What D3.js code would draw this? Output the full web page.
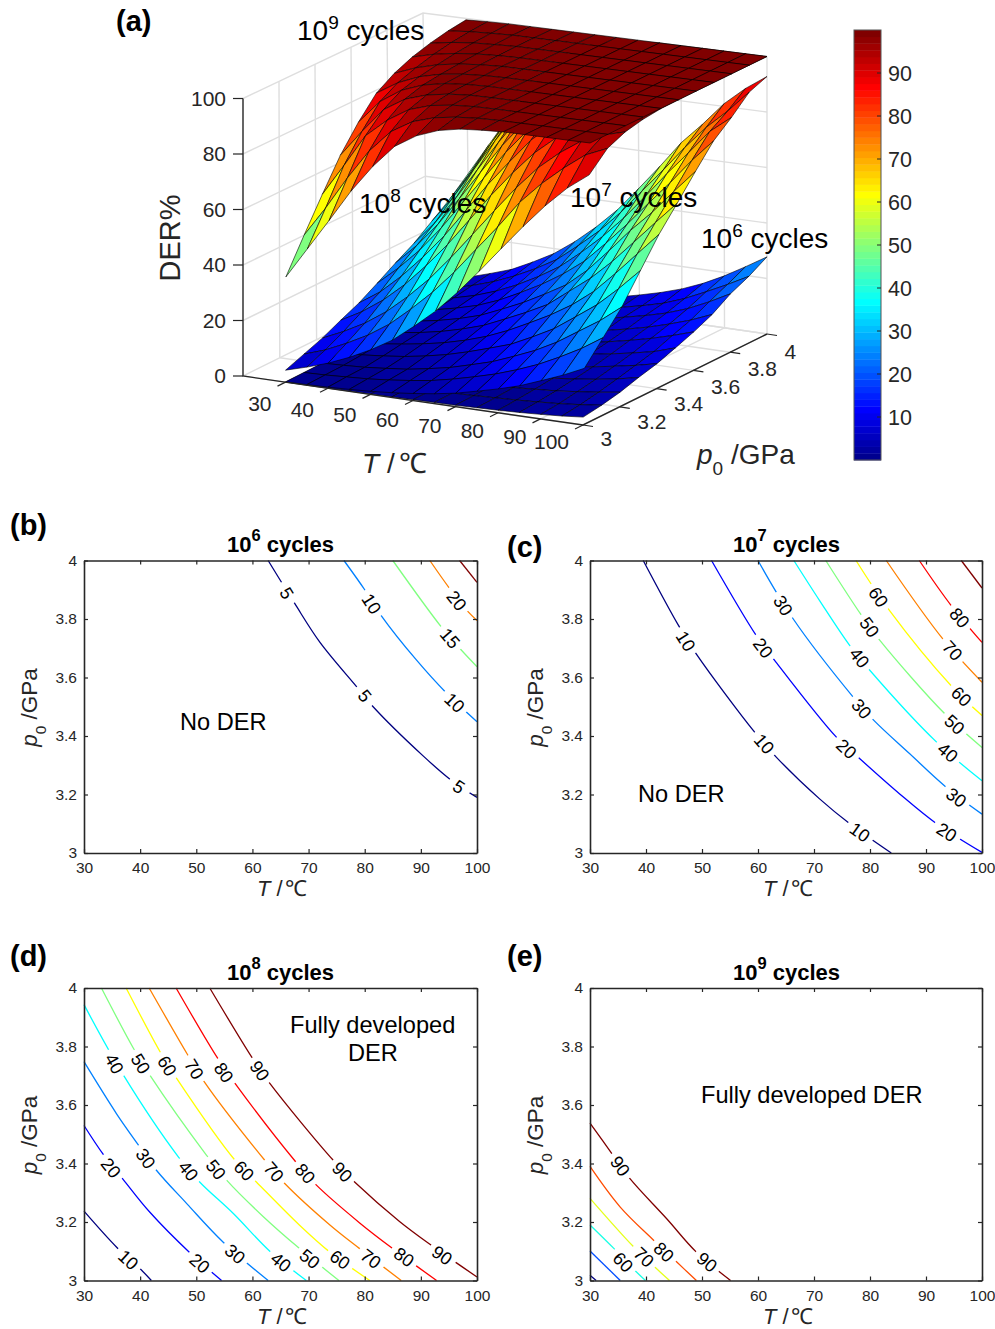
<!DOCTYPE html>
<html><head><meta charset="utf-8">
<script src="https://cdn.jsdelivr.net/npm/d3@7"></script>
<style>html,body{margin:0;padding:0;background:#fff}svg{display:block}text{font-family:"Liberation Sans",Arial,sans-serif}</style>
</head><body><svg id="c" width="995" height="1329"></svg>
<script>
const surfaceTemps=[30,35,40,45,50,55,60,65,70,75,80,85,90,95,100];
const surfacePressures=[3,3.1,3.2,3.3,3.4,3.5,3.6,3.7,3.8,3.9,4];
const der6=[
[0,0,0,.1,.1,.2,.3,.4,.5,.7,.9,1.2,1.6,2.1,2.8],
[0,0,.1,.1,.2,.3,.4,.5,.7,1,1.3,1.7,2.2,2.9,3.8],
[0,.1,.1,.2,.3,.4,.6,.8,1,1.4,1.9,2.4,3.2,4.1,5.2],
[.1,.1,.2,.3,.4,.6,.8,1.1,1.5,2,2.6,3.4,4.4,5.6,7.2],
[.1,.2,.3,.4,.6,.8,1.1,1.5,2,2.7,3.5,4.5,5.8,7.2,8.9],
[.2,.3,.4,.6,.8,1.1,1.5,2,2.7,3.6,4.7,5.9,7.3,8.9,11.3],
[.3,.4,.6,.8,1.1,1.5,2,2.6,3.4,4.5,5.9,7.5,9.3,11.4,13.8],
[.4,.6,.8,1.1,1.4,1.9,2.4,3.1,4.2,5.6,7.2,9,11.2,13.7,16.8],
[.6,.8,1.1,1.4,1.9,2.4,3.1,3.9,5.5,7.1,8.8,10.8,13.5,17,21],
[.8,1,1.4,1.8,2.4,3,3.8,4.8,6.3,8,10,12.8,16.3,20,24],
[1,1.3,1.7,2.2,2.9,3.6,4.5,5.7,7.5,9.5,11.9,15,18.8,23.2,27.8]];
const der7=[
[.1,.2,.4,.7,1.1,1.7,2.5,3.5,4.8,6.6,8.5,10.7,13.6,16.6,20.1],
[.2,.4,.8,1.2,1.9,2.8,3.9,5.5,7.4,9.5,12.1,15.1,18.8,22.9,27.8],
[.3,.6,1,1.7,2.5,3.8,5.3,7.4,9.6,12.6,15.8,19.8,24.7,29.6,35.5],
[.6,1.1,1.8,2.7,4,5.6,7.7,10.1,12.6,16.3,20.3,25.6,31,37.8,45.3],
[1.1,1.8,2.8,4,5.5,7.5,10,13.2,17,21,25.7,31.5,39,47,55],
[1.7,2.6,3.7,5.2,7.2,9.6,13,16.5,20.4,26.2,32,39,47,55.1,63],
[2.3,3.4,4.8,6.6,8.9,12.2,15.7,19.8,24.2,30.6,38.6,47,54.5,63,71.2],
[3,4.3,6,8.1,11.1,14.9,19,23.8,29.5,37,45,53.6,62,71,79],
[3.8,5.3,7.3,10,13.4,17.5,22.2,28.4,35.2,43,51.8,61,69.5,78.3,84.3],
[4.4,6.5,9,12.2,16,20.4,26.5,33,40.7,49.5,58.2,67.3,75.6,82.5,90.3],
[5.2,7.6,10.2,14,18.2,23.7,30.1,37.4,46.2,55.3,64.9,72.6,81,87.5,92.8]];
const der8=[
[4.3,6.5,9,12.2,16,20.5,26.5,33,40.7,49.3,58.4,67.3,75.7,83,88.7],
[6.8,9.4,12.9,16.9,21.9,28.4,35.5,43.7,52.9,62,71.8,79.5,86,91.7,95],
[9.3,12.8,16.9,22.1,28.6,36,44.7,54.1,63.6,72.8,81,87.4,92.6,95.7,97.8],
[12.5,16.7,22,28.6,36.5,45.2,55,64.9,74,82.2,88.6,93.8,96.3,98.2,99.2],
[15.5,20.6,27.4,35.3,44.1,54.2,64.5,73.7,82.6,89.2,94,96.7,98.5,99.4,99.9],
[19.4,26,33.6,42.6,52.8,62.9,73,81.9,88.5,93.8,96.5,98.4,99.5,99.9,100],
[23.5,30.9,39.7,50,60.7,71.3,80.5,87.8,93.6,96.4,98.4,99.4,99.9,100,100],
[27.3,35.9,46.1,57.3,68.4,78.5,86.7,93.1,96.3,98.4,99.5,100,100,100,100],
[32.2,41.9,53.3,64.8,75.5,84.7,91.4,95.6,98.1,99.2,99.8,100,100,100,100],
[37.1,48,60,71.5,81.5,89.3,94.6,97.5,99,99.7,100,100,100,100,100],
[43,54.8,66.6,77.8,86.4,93.1,96.4,98.7,99.6,100,100,100,100,100,100]];
const der9=[
[37.8,49,60.2,71.7,81.6,89.8,94.6,97.5,99,99.6,100,100,100,100,100],
[49.7,60.5,72.3,83,91,95.6,98,99.2,99.8,100,100,100,100,100,100],
[61.2,72.6,84.4,91,95.8,98.3,99.4,99.9,100,100,100,100,100,100,100],
[72.2,81.8,90.7,95.5,98,99.3,99.9,100,100,100,100,100,100,100,100],
[81,89.5,94.6,97.5,99,99.7,100,100,100,100,100,100,100,100,100],
[88.4,93.2,96.4,98.3,99.3,99.8,100,100,100,100,100,100,100,100,100],
[92.5,95.5,97.6,98.9,99.6,100,100,100,100,100,100,100,100,100,100],
[95.3,97.3,98.6,99.4,99.8,100,100,100,100,100,100,100,100,100,100],
[97.2,98.5,99.3,99.7,100,100,100,100,100,100,100,100,100,100,100],
[98.6,99.3,99.7,100,100,100,100,100,100,100,100,100,100,100,100],
[99.5,99.8,100,100,100,100,100,100,100,100,100,100,100,100,100]];

const contoursB=[
[5,[[62.8,4],[67.5,3.854],[72,3.721],[78.8,3.563],[81.5,3.5],[90.4,3.332],[95.4,3.249],[100,3.19]]],
[10,[[76.3,4],[80,3.9],[83,3.81],[89.2,3.66],[94.5,3.548],[100,3.449]]],
[15,[[85,4],[93.6,3.774],[97.2,3.694],[100,3.637]]],
[20,[[91.6,4],[95.1,3.905],[98.4,3.825],[100,3.795]]],
[25,[[96.9,4],[100,3.925]]]];
const labelsB=[[5,66.1,3.888],[5,80,3.537],[5,96.8,3.226],[10,81.2,3.852],[10,96,3.514],[15,95.2,3.734],[20,96.4,3.863]];
const contoursC=[
[10,[[39.5,4],[45.8,3.778],[49,3.68],[59.4,3.413],[63.3,3.327],[71,3.185],[76.4,3.1],[83.8,3]]],
[20,[[51.7,4],[59.7,3.743],[63,3.658],[74,3.396],[78.2,3.322],[85.3,3.202],[91.9,3.1],[100,3.002]]],
[30,[[60,4],[66.3,3.8],[77,3.533],[80.6,3.455],[87.1,3.339],[93.6,3.225],[100,3.133]]],
[40,[[66.4,4],[71,3.863],[76.4,3.709],[80,3.624],[91.9,3.379],[100,3.247]]],
[50,[[72.1,4],[78.5,3.812],[81.8,3.726],[93.4,3.475],[100,3.361]]],
[60,[[77.5,4],[83.5,3.829],[94.5,3.572],[100,3.47]]],
[70,[[82.9,4],[93,3.732],[100,3.584]]],
[80,[[88.8,4],[94.5,3.846],[100,3.72]]],
[90,[[96.3,4],[100,3.906]]]];
const labelsC=[[10,47.1,3.724],[10,61.1,3.373],[10,78.2,3.071],[20,60.9,3.701],[20,75.8,3.356],[20,93.7,3.071],[30,64.5,3.846],[30,78.5,3.493],[30,95.4,3.19],[40,78.1,3.667],[40,93.9,3.344],[50,79.9,3.772],[50,95.1,3.439],[60,81.5,3.875],[60,96.3,3.535],[70,94.7,3.692],[80,96,3.804]];
const contoursD=[
[10,[[30,3.237],[35.9,3.112],[40,3.04],[42,3]]],
[20,[[30,3.53],[33.4,3.432],[37,3.345],[41.7,3.234],[48.9,3.094],[54.5,3]]],
[30,[[30,3.748],[35.8,3.57],[39.7,3.463],[42.9,3.377],[48.3,3.263],[54.8,3.131],[62.8,3]]],
[40,[[30,3.943],[37,3.703],[46.8,3.423],[50.6,3.337],[56.6,3.229],[63.1,3.1],[69.6,3]]],
[50,[[33.1,4],[38.8,3.794],[41.7,3.703],[51.8,3.429],[55.4,3.343],[61.9,3.219],[68.4,3.109],[75.4,3]]],
[60,[[37.5,4],[43.7,3.777],[46.5,3.691],[56.9,3.411],[60.7,3.337],[68.4,3.189],[73.8,3.097],[80.9,3]]],
[70,[[41.6,4],[48.3,3.777],[51.4,3.68],[62.2,3.411],[65.8,3.331],[73.8,3.19],[79.1,3.109],[86.5,3]]],
[80,[[46.4,4],[53.8,3.76],[56.9,3.674],[67.7,3.406],[71.4,3.326],[79.1,3.197],[85,3.109],[92.8,3]]],
[90,[[52.4,4],[60,3.76],[63.1,3.674],[74.4,3.411],[78.2,3.337],[86.2,3.202],[91.9,3.12],[100,3.012]]]];
const labelsD=[[10,37.9,3.071],[20,34.8,3.385],[20,50.6,3.059],[30,41,3.417],[30,56.9,3.091],[40,35.4,3.741],[40,48.6,3.375],[40,65.1,3.063],[50,40.1,3.741],[50,53.5,3.379],[50,70.2,3.074],[60,44.8,3.734],[60,58.5,3.375],[60,75.6,3.071],[70,49.6,3.722],[70,63.8,3.371],[70,81.1,3.074],[80,54.9,3.711],[80,69.4,3.366],[80,87,3.08],[90,61.3,3.717],[90,76,3.371],[90,93.8,3.086]];
const contoursE=[
[40,[[30,3.018],[31.1,3]]],
[50,[[30,3.101],[35.4,3]]],
[60,[[30,3.19],[34.3,3.109],[38.3,3.029],[39.9,3]]],
[70,[[30,3.281],[37.7,3.117],[41.9,3.04],[44.2,3]]],
[80,[[30,3.39],[35.4,3.251],[41.4,3.137],[45.5,3.063],[49,3]]],
[90,[[30,3.538],[33.9,3.434],[37.1,3.349],[43.7,3.211],[49,3.097],[55.1,3]]]];
const labelsE=[[60,35.9,3.063],[70,39.6,3.08],[80,43.2,3.097],[90,35.4,3.391],[90,50.9,3.063]];
const tempTicks=[30,40,50,60,70,80,90,100];
const pressureTicks=[3,3.2,3.4,3.6,3.8,4];
const derTicks=[0,20,40,60,80,100];
const colorbarTicks=[10,20,30,40,50,60,70,80,90];
const colorLevels=d3.range(64);

const INK="#262626";
const clamp01=v=>Math.max(0,Math.min(1,v));
const jet=t=>{const c=k=>Math.round(255*clamp01(1.5-Math.abs(4*t-k)));return `rgb(${c(3)},${c(2)},${c(1)})`;};
const jet64=d3.scaleQuantize().domain([0,100]).range(colorLevels.map(i=>jet((i+1)/64)));
const svg=d3.select("#c");

function rich(g,x,y,size,parts,opt={}){
  const t=g.append("text").attr("x",x).attr("y",y).attr("font-size",size).attr("fill",opt.fill||"#000")
    .attr("font-weight",opt.bold?"bold":null);
  if(opt.transform)t.attr("transform",opt.transform);
  if(opt.anchor)t.attr("text-anchor",opt.anchor);
  parts.forEach(p=>{
    const s=t.append("tspan").text(p.t);
    if(p.i)s.attr("font-style","italic");
    if(p.sup){s.attr("font-size",size*(opt.supScale||0.68)).attr("dy",-size*(opt.supRise||0.4));}
    if(p.sub){s.attr("font-size",size*0.68).attr("dy",size*0.38);}
    if(p.back)s.attr("dy",p.back*size);
    if(p.dx)s.attr("dx",p.dx);
  });
  return t;
}

/* ---------- panel (a) ---------- */
const xT=d3.scaleLinear().domain([20,100]).range([243,583]);
const yT=d3.scaleLinear().domain([20,100]).range([376,425]);
const xP=d3.scaleLinear().domain([3,4]).range([0,184]);
const yP=d3.scaleLinear().domain([3,4]).range([0,-91]);
const yZ=d3.scaleLinear().domain([0,100]).range([0,-277.5]);
// slight perspective of the original view: verticals lean and scale with depth
const proj=(T,p,z)=>{
  const tf=(T-20)/80,pf=p-3,zf=z/100;
  const k=1+0.0162*tf*(1-pf)-0.02*(1-tf)*pf;
  return [xT(T)+xP(p)+zf*(7*tf*(1-pf)-4*(1-tf)*pf),yT(T)+yP(p)+yZ(z)*k];
};
const a=svg.append("g");
const line3=d3.line();
const gridSegs=[];
derTicks.forEach(z=>{gridSegs.push([proj(20,3,z),proj(20,4,z),proj(100,4,z)]);});
pressureTicks.forEach(p=>{if(p>3)gridSegs.push([proj(20,p,0),proj(20,p,100)]);gridSegs.push([proj(20,p,0),proj(100,p,0)]);});
tempTicks.forEach(T=>{gridSegs.push([proj(T,3,0),proj(T,4,0),proj(T,4,100)]);});
a.append("g").selectAll("path").data(gridSegs).join("path").attr("d",line3).attr("fill","none").attr("stroke","#dedede").attr("stroke-width",1.4);

[der6,der7,der8,der9].forEach(table=>{
  const cells=[];
  for(let j=surfacePressures.length-2;j>=0;j--){
    for(let i=0;i<surfaceTemps.length-1;i++){
      const c=[[i,j],[i+1,j],[i+1,j+1],[i,j+1]];
      cells.push({pts:c.map(([a,b])=>proj(surfaceTemps[a],surfacePressures[b],table[b][a])),
        z:d3.mean(c,([a,b])=>table[b][a])});
    }
  }
  a.append("g").selectAll("path").data(cells).join("path")
   .attr("d",d=>line3(d.pts)+"Z").attr("fill",d=>jet64(d.z)).attr("stroke","#000").attr("stroke-width",0.7).attr("stroke-opacity",0.85).attr("stroke-linejoin","round");
});
// axes
const axis3=[[proj(20,3,100),proj(20,3,0),proj(100,3,0),proj(100,4,0)]];
a.append("g").selectAll("path").data(axis3).join("path").attr("d",line3).attr("fill","none").attr("stroke",INK).attr("stroke-width",1.4);
a.append("g").selectAll("line").data(derTicks).join("line")
 .attr("x1",d=>proj(20,3,d)[0]).attr("x2",d=>proj(20,3,d)[0]-10)
 .attr("y1",d=>proj(20,3,d)[1]).attr("y2",d=>proj(20,3,d)[1]).attr("stroke",INK).attr("stroke-width",1.2);
a.append("g").selectAll("text").data(derTicks).join("text").text(d=>d)
 .attr("x",226).attr("y",d=>proj(20,3,d)[1]+7).attr("text-anchor","end").attr("font-size",21).attr("fill",INK);
a.append("g").selectAll("line").data(tempTicks).join("line")
 .attr("x1",d=>proj(d,3,0)[0]).attr("y1",d=>proj(d,3,0)[1]).attr("x2",d=>proj(d,3,0)[0]-8).attr("y2",d=>proj(d,3,0)[1]+4).attr("stroke",INK).attr("stroke-width",1.2);
a.append("g").selectAll("text").data(tempTicks).join("text").text(d=>d)
 .attr("x",d=>proj(d,3,0)[0]-14).attr("y",d=>proj(d,3,0)[1]+29-0.07*(d-30)).attr("text-anchor","end").attr("font-size",21).attr("fill",INK);
a.append("g").selectAll("line").data(pressureTicks).join("line")
 .attr("x1",d=>proj(100,d,0)[0]).attr("y1",d=>proj(100,d,0)[1]).attr("x2",d=>proj(100,d,0)[0]+10).attr("y2",d=>proj(100,d,0)[1]+1.5).attr("stroke",INK).attr("stroke-width",1.2);
a.append("g").selectAll("text").data(pressureTicks).join("text").text(d=>d)
 .attr("x",d=>proj(100,d,0)[0]+17.5).attr("y",d=>proj(100,d,0)[1]+21+4*(d-3)).attr("font-size",21).attr("fill",INK);

rich(a,297,40,28,[{t:"10"},{t:"9",sup:1},{t:" cycles",back:0.4}]);
rich(a,359,213,28,[{t:"10"},{t:"8",sup:1},{t:" cycles",back:0.4}]);
rich(a,570,207,28,[{t:"10"},{t:"7",sup:1},{t:" cycles",back:0.4}]);
rich(a,701,248,28,[{t:"10"},{t:"6",sup:1},{t:" cycles",back:0.4}]);
rich(a,180,238,29,[{t:"DER%"}],{fill:INK,anchor:"middle",transform:"rotate(-90 180 238)"});
rich(a,362,473,28,[{t:"T",i:1},{t:" /"},{t:"℃",dx:4}],{fill:INK});
rich(a,697,464,28,[{t:"p",i:1},{t:"0",sub:1},{t:" /GPa",back:-0.38}],{fill:INK});

// colorbar
const cb=svg.append("g");
const yBar=d3.scaleLinear().domain([0,100]).range([460,30]);
cb.selectAll("rect").data(colorLevels).join("rect")
 .attr("x",854).attr("width",27).attr("y",d=>yBar((d+1)*100/64)).attr("height",d=>yBar(d*100/64)-yBar((d+1)*100/64)+0.4)
 .attr("fill",d=>jet((d+1)/64));
cb.append("rect").attr("x",854).attr("y",30).attr("width",27).attr("height",430).attr("fill","none").attr("stroke","#555").attr("stroke-width",1);
cb.append("g").selectAll("line").data(colorbarTicks).join("line").attr("x1",877).attr("x2",881).attr("y1",d=>yBar(d)).attr("y2",d=>yBar(d)).attr("stroke",INK);
cb.append("g").selectAll("text").data(colorbarTicks).join("text").text(d=>d).attr("x",888).attr("y",d=>yBar(d)+7.5).attr("font-size",21.5).attr("fill",INK);

/* ---------- contour panels ---------- */
function panel(x0,y0,W,contours,labels,exp,annots,letter,lx,ly){
  const H=292.5;
  const g=svg.append("g");
  const x=d3.scaleLinear().domain([30,100]).range([x0,x0+W]);
  const y=d3.scaleLinear().domain([3,4]).range([y0+H,y0]);
  const levels=contours.map(c=>c[0]),lo=d3.min(levels),hi=d3.max(levels);
  const col=l=>jet((l-lo)/(hi-lo));
  const curve=d3.line().x(d=>x(d[0])).y(d=>y(d[1])).curve(d3.curveCatmullRom.alpha(0.5));
  g.append("g").selectAll("path").data(contours).join("path").attr("d",d=>curve(d[1])).attr("fill","none").attr("stroke",d=>col(d[0])).attr("stroke-width",1.3);
  // inline labels aligned to local slope
  const lab=labels.map(([lv,T,p])=>{
    const pts=contours.find(c=>c[0]===lv)[1].map(q=>[x(q[0]),y(q[1])]);
    const px=x(T),py=y(p);let best=0,bd=1e9;
    for(let i=0;i<pts.length-1;i++){const m=[(pts[i][0]+pts[i+1][0])/2,(pts[i][1]+pts[i+1][1])/2];const dd=(m[0]-px)**2+(m[1]-py)**2;if(dd<bd){bd=dd;best=i;}}
    const ang=Math.atan2(pts[best+1][1]-pts[best][1],pts[best+1][0]-pts[best][0])*180/Math.PI;
    return {lv,px,py,ang:ang>90?ang-180:ang<-90?ang+180:ang};
  });
  const lg=g.append("g").selectAll("g").data(lab).join("g").attr("transform",d=>`translate(${d.px},${d.py}) rotate(${d.ang})`);
  lg.append("rect").attr("x",d=>-(String(d.lv).length>1?15:12)).attr("width",d=>String(d.lv).length>1?30:24).attr("y",-7).attr("height",14).attr("fill","#fff");
  lg.append("text").text(d=>d.lv).attr("text-anchor","middle").attr("y",6.3).attr("font-size",18).attr("fill","#000");
  // frame & axes
  const style=s=>{s.selectAll("path").attr("stroke",INK).attr("stroke-width",1.6);s.selectAll("line").attr("stroke",INK).attr("stroke-width",1.2);
    s.selectAll("text").attr("font-size",15.5).attr("fill",INK).attr("font-family",'"Liberation Sans"');};
  const ax=d3.axisBottom(x).tickValues(tempTicks).tickSizeInner(-4).tickSizeOuter(0).tickPadding(9).tickFormat(d3.format("d"));
  const ay=d3.axisLeft(y).tickValues(pressureTicks).tickSizeInner(-4).tickSizeOuter(0).tickPadding(7).tickFormat(d=>d);
  g.append("g").attr("transform",`translate(0,${y0+H})`).call(ax).call(style);
  g.append("g").attr("transform",`translate(${x0},0)`).call(ay).call(style);
  g.append("g").attr("transform",`translate(0,${y0})`).call(d3.axisTop(x).tickValues(tempTicks).tickSizeInner(-4).tickSizeOuter(0).tickFormat("")).call(style);
  g.append("g").attr("transform",`translate(${x0+W},0)`).call(d3.axisRight(y).tickValues(pressureTicks).tickSizeInner(-4).tickSizeOuter(0).tickFormat("")).call(style);
  // titles
  rich(g,x0+143,y0-8.5,22,[{t:"10"},{t:exp,sup:1},{t:" cycles",back:0.5}],{bold:1,supScale:0.75,supRise:0.5});
  rich(g,x0+173,y0+H+43,22,[{t:"T",i:1},{t:" /"},{t:"℃",dx:2}],{fill:INK});
  const yc=y0+H/2+5;
  const ty=x0-47;
  rich(g,ty,yc+35,22.5,[{t:"p",i:1},{t:"0",sub:1},{t:" /GPa",back:-0.38}],{fill:INK,transform:`rotate(-90 ${ty} ${yc+35})`});
  annots.forEach(n=>rich(g,n[1],n[2],23.6,[{t:n[0]}],n[3]?{anchor:"middle"}:{}));
  rich(g,lx,ly,29,[{t:letter}],{bold:1});
}
rich(svg,116,31,29,[{t:"(a)"}],{bold:1});
panel(84,560.5,393,contoursB,labelsB,"6",[["No DER",180,730]],"(b)",10,535);
panel(590,560.5,392,contoursC,labelsC,"7",[["No DER",638,802]],"(c)",507,557);
panel(84,988,393,contoursD,labelsD,"8",[["Fully developed",290,1033],["DER",373,1061,1]],"(d)",10,966);
panel(590,988,392,contoursE,labelsE,"9",[["Fully developed DER",701,1103]],"(e)",507,966);
</script></body></html>
